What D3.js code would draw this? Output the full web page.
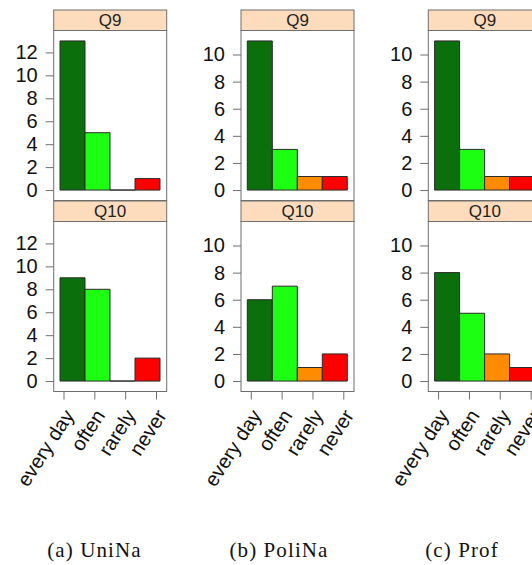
<!DOCTYPE html>
<html>
<head>
<meta charset="utf-8">
<script src="https://cdn.jsdelivr.net/npm/d3@7"></script>
<style>
  body { margin: 0; background: #fff; }
  svg { display: block; }
</style>
</head>
<body>
<div id="chart"></div>
<script>
// answer categories and colours
const categories = ['every day', 'often', 'rarely', 'never'];
const barColors = ['#0b700b', '#1cff12', '#ff8c00', '#ff0000'];
const questions = ['Q9', 'Q10'];

// counts per group, one array per question
const uninaQ9 = [13, 5, 0, 1];
const uninaQ10 = [9, 8, 0, 2];
const polinaQ9 = [11, 3, 1, 1];
const polinaQ10 = [6, 7, 1, 2];
const profQ9 = [11, 3, 1, 1];
const profQ10 = [8, 5, 2, 1];

const captions = ['(a) UniNa', '(b) PoliNa', '(c) Prof'];
const yTicksUnina = [0, 2, 4, 6, 8, 10, 12];
const yTicksOther = [0, 2, 4, 6, 8, 10];

const groups = [
    { caption: captions[0], series: [uninaQ9, uninaQ10], ticks: yTicksUnina },
    { caption: captions[1], series: [polinaQ9, polinaQ10], ticks: yTicksOther },
    { caption: captions[2], series: [profQ9, profQ10], ticks: yTicksOther },
];

const width = 532;
const height = 565;
const colLeft = [53.7, 241, 428.3];
const panelW = 113;
const stripH = 20.5;
const panelH = 170;
const rowTop = [10, 201];
const textCol = '#111';
const boxCol = '#6e6e6e';
const sans = "'Liberation Sans', Arial, Helvetica, sans-serif";

const svg = d3.select('#chart').append('svg')
    .attr('width', width)
    .attr('height', height);

const xBand = d3.scaleBand().domain(categories).range([6.3, 106.3]).paddingInner(0);
const xTick = d3.scalePoint().domain(categories).range([10.3, 102.8]);

groups.forEach((g, gi) => {
    const left = colLeft[gi];
    // lattice style: extend the range by 7%
    const maxV = d3.max(g.series.flat());
    const ext = maxV * 0.07;

    g.series.forEach((vals, qi) => {
        const top = rowTop[qi];
        const pTop = top + stripH;
        const y = d3.scaleLinear().domain([-ext, maxV + ext]).range([pTop + panelH, pTop]);
        const panel = svg.append('g').attr('transform', `translate(${left},0)`);

        // strip
        panel.append('rect')
            .attr('x', 0).attr('y', top)
            .attr('width', panelW).attr('height', stripH)
            .attr('fill', '#fddcbd')
            .attr('stroke', boxCol).attr('stroke-width', 1);
        panel.append('text')
            .attr('x', panelW / 2).attr('y', top + stripH / 2)
            .attr('dy', '0.36em')
            .attr('text-anchor', 'middle')
            .attr('font-family', sans)
            .attr('font-size', '17px')
            .attr('fill', '#222')
            .text(questions[qi]);

        // bars (paths so that a zero count still shows its outline)
        panel.selectAll('path.bar')
            .data(vals)
            .enter().append('path')
            .attr('class', 'bar')
            .attr('d', (d, i) => {
                const x0 = xBand(categories[i]);
                const x1 = x0 + xBand.bandwidth();
                return `M${x0},${y(0)}V${y(d)}H${x1}V${y(0)}Z`;
            })
            .attr('fill', (d, i) => barColors[i])
            .attr('stroke', '#2a2a2a')
            .attr('stroke-width', 1);

        // panel box
        panel.append('rect')
            .attr('x', 0).attr('y', pTop)
            .attr('width', panelW).attr('height', panelH)
            .attr('fill', 'none')
            .attr('stroke', boxCol).attr('stroke-width', 1);

        // y axis
        const yAxis = panel.append('g')
            .call(d3.axisLeft(y).tickValues(g.ticks).tickSize(8).tickPadding(8).tickFormat(d3.format('d')));
        yAxis.select('.domain').remove();
        yAxis.selectAll('line').attr('stroke', boxCol);
        yAxis.selectAll('text')
            .attr('font-family', sans)
            .attr('font-size', '20px')
            .attr('fill', textCol);

        // x ticks and rotated labels on the bottom row only
        if (qi === 1) {
            const base = pTop + panelH;
            panel.selectAll('line.xt')
                .data(categories)
                .enter().append('line')
                .attr('class', 'xt')
                .attr('x1', d => xTick(d)).attr('x2', d => xTick(d))
                .attr('y1', base).attr('y2', base + 8)
                .attr('stroke', boxCol);
            panel.selectAll('text.xl')
                .data(categories)
                .enter().append('text')
                .attr('class', 'xl')
                .attr('transform', d => `translate(${xTick(d) + 5},${base + 20}) rotate(-57)`)
                .attr('text-anchor', 'end')
                .attr('dy', '0.35em')
                .attr('font-family', sans)
                .attr('font-size', '20px')
                .attr('fill', textCol)
                .text(d => d);
        }
    });

    // sub-figure caption
    svg.append('text')
        .attr('x', [94.5, 279, 462][gi])
        .attr('y', 557)
        .attr('text-anchor', 'middle')
        .attr('font-family', "'Liberation Serif', 'Times New Roman', serif")
        .attr('font-size', '21px')
        .attr('letter-spacing', '1.1px')
        .attr('fill', '#111')
        .text(g.caption);
});
</script>
</body>
</html>
